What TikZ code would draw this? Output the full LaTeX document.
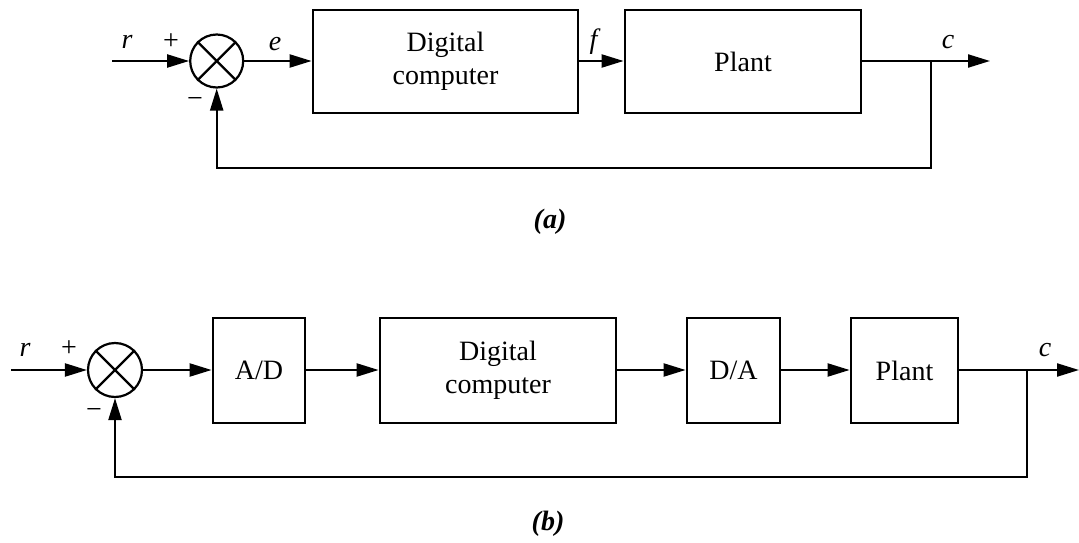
\documentclass[tikz,border=0pt]{standalone}
\usepackage{fontspec}
\setmainfont{Liberation Serif}
\usetikzlibrary{arrows.meta}
\begin{document}
\begin{tikzpicture}[x=1pt,y=-1pt,
  blk/.style={draw, line width=2.8pt, inner sep=0pt, align=center, font=\fontsize{28}{33}\selectfont},
  sumj/.style={draw, circle, line width=2.2pt, minimum size=53pt, inner sep=0pt},
  conn/.style={line width=2.2pt},
  arr/.style={conn, -{Triangle[length=22pt,width=13pt]}},
  lbl/.style={font=\fontsize{28}{33}\selectfont, inner sep=0pt}
]
\useasboundingbox (0,0) rectangle (1079,543);

% ---------------- (a) ----------------
\node[sumj] (sumA) at (216.7,61) {};
\draw[conn] (sumA.north west) -- (sumA.south east);
\draw[conn] (sumA.north east) -- (sumA.south west);
\node[blk, minimum width=265pt, minimum height=103pt] (dcA) at (445.5,61.5) {Digital\\computer};
\node[blk, minimum width=236pt, minimum height=103pt] (plantA) at (743,61.5) {Plant};
\coordinate (inA) at (112,61);
\coordinate (bA) at (931,61);
\coordinate (outA) at (990,61);
\coordinate (fbA) at (931,168);

\draw[arr] (inA) -- (sumA.west);
\draw[arr] (sumA.east) -- (sumA.east -| dcA.west);
\draw[arr] (dcA.east |- sumA.east) -- (plantA.west |- sumA.east);
\draw[arr] (plantA.east |- sumA.east) -- (outA);
\draw[arr] (bA) -- (fbA) -| (sumA.south);

\node[lbl] (rA) at (127,42) {\textit{r}};
\node[lbl] (pA) at (171,42) {+};
\node[lbl] (mA) at (195,103) {−};
\node[lbl] (eA) at (275,44) {\textit{e}};
\node[lbl] (fA) at (595,42) {\textit{f}};
\node[lbl] (cA) at (948,42) {\textit{c}};
\node[lbl] (capA) at (550,222) {\textbf{\textit{(a)}}};

% ---------------- (b) ----------------
\node[sumj, minimum size=54pt] (sumB) at (115,370) {};
\draw[conn] (sumB.north west) -- (sumB.south east);
\draw[conn] (sumB.north east) -- (sumB.south west);
\node[blk, minimum width=92pt, minimum height=105pt] (ad) at (259,370.5) {A/D};
\node[blk, minimum width=236pt, minimum height=105pt] (dcB) at (498,370.5) {Digital\\computer};
\node[blk, minimum width=93pt, minimum height=105pt] (da) at (733.5,370.5) {D/A};
\node[blk, minimum width=107pt, minimum height=105pt] (plantB) at (904.5,370.5) {Plant};
\coordinate (inB) at (11,370);
\coordinate (bB) at (1027,370);
\coordinate (outB) at (1079,370);
\coordinate (fbB) at (1027,477);

\draw[arr] (inB) -- (sumB.west);
\draw[arr] (sumB.east) -- (sumB.east -| ad.west);
\draw[arr] (ad.east |- sumB.east) -- (dcB.west |- sumB.east);
\draw[arr] (dcB.east |- sumB.east) -- (da.west |- sumB.east);
\draw[arr] (da.east |- sumB.east) -- (plantB.west |- sumB.east);
\draw[arr] (plantB.east |- sumB.east) -- (outB);
\draw[arr] (bB) -- (fbB) -| (sumB.south);

\node[lbl] (rB) at (25,350) {\textit{r}};
\node[lbl] (pB) at (69,349) {+};
\node[lbl] (mB) at (94,413) {−};
\node[lbl] (cB) at (1045,350) {\textit{c}};
\node[lbl] (capB) at (548,524) {\textbf{\textit{(b)}}};
\end{tikzpicture}
\end{document}
